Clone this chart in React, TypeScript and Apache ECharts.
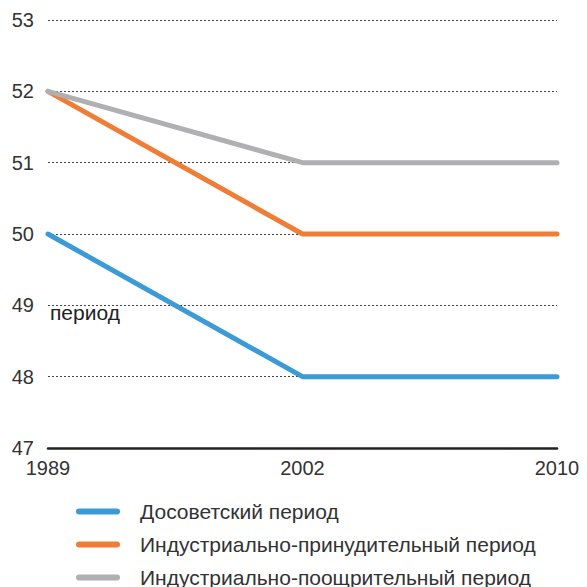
import React, { useEffect, useRef } from "react";
import * as echarts from "echarts";

const years = ["1989", "2002", "2010"];
const seriesNames = [
  "Досоветский период",
  "Индустриально-принудительный период",
  "Индустриально-поощрительный период",
];
const preSoviet = [50, 48, 48];
const industrialForced = [52, 50, 50];
const industrialEncouraged = [52, 51, 51];
const colors = ["#3b9bd6", "#f07d35", "#b0b0b3"];

export default function App() {
  const ref = useRef<HTMLDivElement>(null);
  useEffect(() => {
    if (!ref.current) return;
    const chart = echarts.init(ref.current, undefined, { renderer: "svg" });
    const font = "'Liberation Sans', Arial, sans-serif";
    const data = [preSoviet, industrialForced, industrialEncouraged];
    chart.setOption({
      animation: false,
      textStyle: { fontFamily: font },
      grid: { left: 48, right: 30, top: 20, bottom: 139, containLabel: false },
      xAxis: {
        type: "category",
        data: years,
        boundaryGap: false,
        axisLine: { show: true, lineStyle: { color: "#222", width: 2.5 } },
        axisTick: { show: false },
        axisLabel: { color: "#333", fontSize: 20, margin: 10, fontFamily: font },
        splitLine: { show: false },
      },
      yAxis: {
        type: "value",
        min: 47,
        max: 53,
        interval: 1,
        axisLine: { show: false },
        axisTick: { show: false },
        axisLabel: { color: "#333", fontSize: 20, margin: 14, fontFamily: font },
        splitLine: { show: true, lineStyle: { color: "#444", type: [2, 2], width: 1 } },
      },
      legend: {
        orient: "vertical",
        left: 76,
        top: 501,
        height: 200,
        padding: 0,
        itemWidth: 44,
        itemHeight: 6,
        itemGap: 12,
        icon: "path://M3,0 H41 A3,3 0 0 1 41,6 H3 A3,3 0 0 1 3,0 Z",
        textStyle: { color: "#333", fontSize: 21, fontFamily: font, padding: [0, 0, 0, 15] },
        data: seriesNames,
      },
      graphic: [
        {
          type: "text",
          left: 50,
          top: 302,
          style: { text: "период", fontSize: 21, fill: "#222", fontFamily: font },
        },
      ],
      series: seriesNames.map((name, i) => ({
        name,
        type: "line",
        data: data[i],
        showSymbol: false,
        symbol: "none",
        lineStyle: { color: colors[i], width: 5, cap: "round" },
        itemStyle: { color: colors[i] },
      })),
    });
    return () => chart.dispose();
  }, []);
  return <div ref={ref} style={{ width: 587, height: 587, position: "absolute", left: 0, top: 0 }} />;
}
